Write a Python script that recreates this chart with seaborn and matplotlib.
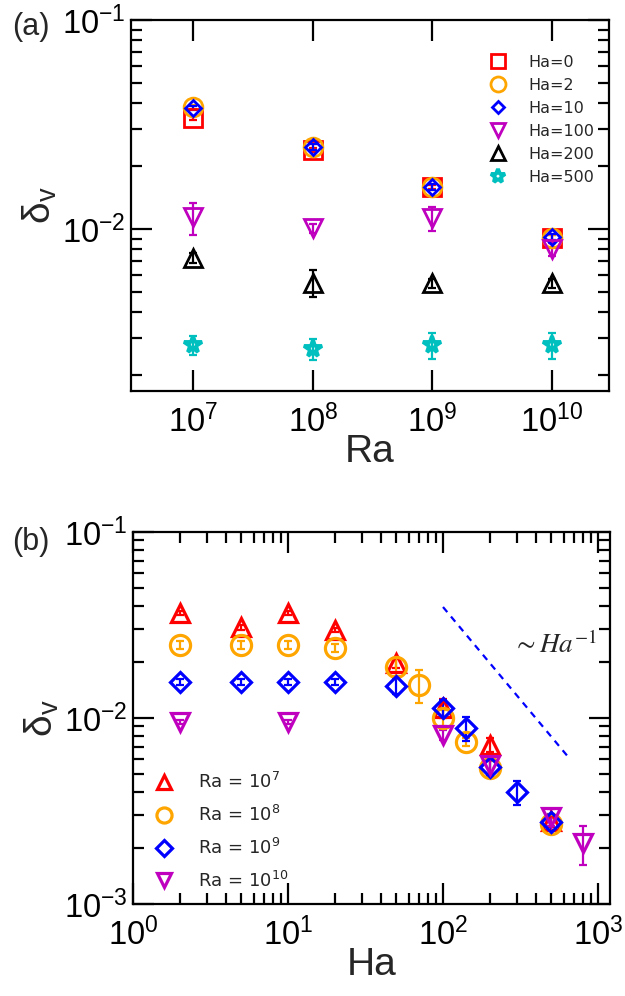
import matplotlib
matplotlib.use("Agg")
import matplotlib.pyplot as plt
import pandas as pd
import seaborn as sns
from matplotlib.ticker import LogLocator, NullLocator, NullFormatter

# ---------------- (a) boundary-layer thickness vs Ra ----------------
ra_values = [1e7, 1e8, 1e9, 1e10]

ha_labels_a = ["Ha=0", "Ha=2", "Ha=10", "Ha=100", "Ha=200", "Ha=500"]
delta_ha0 = [0.0341, 0.0239, 0.0159, 0.0091]
delta_ha2 = [0.0384, 0.0247, 0.0159, 0.0091]
delta_ha10 = [0.0380, 0.0247, 0.0159, 0.0092]
delta_ha100 = [0.0114, 0.0101, 0.0113, 0.0080]
delta_ha200 = [0.0073, 0.00555, 0.0055, 0.0055]
delta_ha500 = [0.00279, 0.00267, 0.00279, 0.00278]

err_ha0 = [0.0008, 0.0006, 0.0004, 0.0003]
err_ha2 = [0.0010, 0.0008, 0.0006, 0.0003]
err_ha10 = [0.0010, 0.0008, 0.0006, 0.0003]
err_ha100 = [0.0020, 0.0005, 0.0015, 0.0006]
err_ha200 = [0.0004, 0.0008, 0.0003, 0.0003]
err_ha500 = [0.0003, 0.0003, 0.0004, 0.0004]

# ---------------- (b) boundary-layer thickness vs Ha ----------------
ra_labels_b = [r"Ra = 10$^{7}$", r"Ra = 10$^{8}$", r"Ra = 10$^{9}$", r"Ra = 10$^{10}$"]

ha_ra7 = [2, 5, 10, 20, 50, 100, 200, 500]
delta_ra7 = [0.0367, 0.0308, 0.0367, 0.0297, 0.0198, 0.0113, 0.00716, 0.0028]
err_ra7 = [0.0008, 0.0010, 0.0008, 0.0008, 0.0012, 0.0013, 0.0006, 0.0002]

ha_ra8 = [2, 5, 10, 20, 50, 70, 100, 140, 200, 500]
delta_ra8 = [0.0247, 0.0247, 0.0247, 0.0238, 0.0188, 0.0150, 0.0100, 0.00743, 0.0054, 0.0027]
err_ra8 = [0.0012, 0.0012, 0.0012, 0.0012, 0.0020, 0.0030, 0.0010, 0.0004, 0.0005, 0.0002]

ha_ra9 = [2, 5, 10, 20, 50, 100, 140, 200, 300, 500]
delta_ra9 = [0.0156, 0.0156, 0.0156, 0.0156, 0.0149, 0.0113, 0.00883, 0.00545, 0.0040, 0.00276]
err_ra9 = [0.0005, 0.0005, 0.0005, 0.0005, 0.0015, 0.0012, 0.0013, 0.0005, 0.0006, 0.0003]

ha_ra10 = [2, 10, 100, 200, 500, 800]
delta_ra10 = [0.0095, 0.0095, 0.0081, 0.00558, 0.00294, 0.00213]
err_ra10 = [0.0002, 0.0002, 0.0005, 0.0006, 0.0003, 0.0005]

# Ha^-1 guide line end points
guide_ha = [100, 650]
guide_delta = [0.0395, 0.0061]

sns.set_theme(style="ticks")
plt.rcParams["font.family"] = ["Liberation Sans", "DejaVu Sans"]
plt.rcParams["mathtext.fontset"] = "custom"
plt.rcParams["mathtext.rm"] = "Liberation Sans"
plt.rcParams["mathtext.it"] = "Liberation Sans:italic"
plt.rcParams["mathtext.bf"] = "Liberation Sans:bold"
plt.rcParams["axes.unicode_minus"] = False

fig = plt.figure(figsize=(6.25, 9.96), dpi=100)
ax_a = fig.add_axes([0.2096, 0.6074, 0.7648, 0.3725])
ax_b = fig.add_axes([0.2128, 0.0924, 0.7632, 0.3735])


def draw_series(ax, x, y, err, color, marker, ms, label, mew=2.0):
    ax.errorbar(x, y, yerr=err, fmt="none", ecolor=color, elinewidth=1.6,
                capsize=3, capthick=1.6, zorder=3)
    df = pd.DataFrame({"x": x, "y": y})
    sns.lineplot(data=df, x="x", y="y", ax=ax, sort=False, estimator=None,
                 color=color, linestyle="", marker=marker, markersize=ms,
                 markerfacecolor="none", markeredgecolor=color,
                 markeredgewidth=mew, label=label, zorder=4)


def style_axes(ax, tick_size=23.5):
    ax.set_xscale("log")
    ax.set_yscale("log")
    for s in ax.spines.values():
        s.set_linewidth(1.6)
        s.set_color("black")
    ax.tick_params(which="both", direction="in", top=True, right=True,
                   colors="black")
    ax.tick_params(which="major", length=15, width=1.6, labelsize=tick_size)
    ax.tick_params(axis="y", which="major", pad=4)
    ax.tick_params(axis="x", which="major", pad=10)
    ax.tick_params(which="minor", length=8, width=1.6)
    ax.yaxis.set_major_locator(LogLocator(base=10, numticks=20))
    ax.yaxis.set_minor_locator(LogLocator(base=10, subs=range(2, 10), numticks=20))
    ax.yaxis.set_minor_formatter(NullFormatter())
    ax.xaxis.set_minor_formatter(NullFormatter())


# ---- panel (a)
series_a = [
    (delta_ha0, err_ha0, "#ff0000", "s", 13),
    (delta_ha2, err_ha2, "#ffa500", "o", 13.5),
    (delta_ha10, err_ha10, "#0000ff", "D", 8),
    (delta_ha100, err_ha100, "#bf00bf", "v", 12.5),
    (delta_ha200, err_ha200, "#000000", "^", 12.5),
    (delta_ha500, err_ha500, "#00bfbf", "*", 13),
]
for (vals, errs, col, mk, ms), lab in zip(series_a, ha_labels_a):
    draw_series(ax_a, ra_values, vals, errs, col, mk, ms, lab,
                mew=2.8 if mk == "*" else 2.0)

style_axes(ax_a)
ax_a.set_xlim(3.0e6, 3.0e10)
ax_a.set_ylim(1.68e-3, 0.1)
ax_a.xaxis.set_major_locator(LogLocator(base=10, numticks=20))
ax_a.xaxis.set_minor_locator(NullLocator())
ax_a.set_xlabel("Ra", fontsize=28, labelpad=-4)
ax_a.set_ylabel(r"δ$_\mathregular{v}$", fontsize=28, labelpad=2)

leg_a = ax_a.legend(loc="upper left", bbox_to_anchor=(0.752, 0.906),
                    frameon=False, prop={"family": "DejaVu Sans", "size": 11.5},
                    handlelength=1.0, handletextpad=1.35, labelspacing=0.5,
                    borderpad=0, borderaxespad=0, markerscale=0.8)

# ---- panel (b)
series_b = [
    (ha_ra7, delta_ra7, err_ra7, "#ff0000", "^", 13.5),
    (ha_ra8, delta_ra8, err_ra8, "#ffa500", "o", 14.5),
    (ha_ra9, delta_ra9, err_ra9, "#0000ff", "D", 10.5),
    (ha_ra10, delta_ra10, err_ra10, "#bf00bf", "v", 13.5),
]
for (hx, vals, errs, col, mk, ms), lab in zip(series_b, ra_labels_b):
    draw_series(ax_b, hx, vals, errs, col, mk, ms, lab, mew=2.3)

sns.lineplot(x=guide_ha, y=guide_delta, ax=ax_b, color="#0000ff",
             linestyle=(0, (3, 2.6)), linewidth=1.6, legend=False)

style_axes(ax_b)
ax_b.set_xlim(1.0, 1195)
ax_b.set_ylim(1e-3, 0.1)
ax_b.xaxis.set_major_locator(LogLocator(base=10, numticks=20))
ax_b.xaxis.set_minor_locator(LogLocator(base=10, subs=range(2, 10), numticks=20))
ax_b.set_xlabel("Ha", fontsize=28, labelpad=-4)
ax_b.set_ylabel(r"δ$_\mathregular{v}$", fontsize=28, labelpad=2)

ax_b.text(0.885, 0.696, r"$\sim Ha^{-1}$", transform=ax_b.transAxes,
          fontsize=19.5, ha="center", va="center", math_fontfamily="stix")

leg_b = ax_b.legend(loc="lower left", bbox_to_anchor=(0.046, 0.036),
                    frameon=False, prop={"family": "DejaVu Sans", "size": 13},
                    handlelength=1.0, handletextpad=1.4, labelspacing=0.7,
                    borderpad=0, borderaxespad=0, markerscale=0.75)
for t in leg_b.get_texts():
    t.set_math_fontfamily("dejavusans")

# panel tags
fig.text(12 / 625, 1 - 27 / 996, "(a)", fontsize=22, ha="left", va="center")
fig.text(12 / 625, 1 - 542 / 996, "(b)", fontsize=22, ha="left", va="center")

fig.savefig("out.png", dpi=100)
